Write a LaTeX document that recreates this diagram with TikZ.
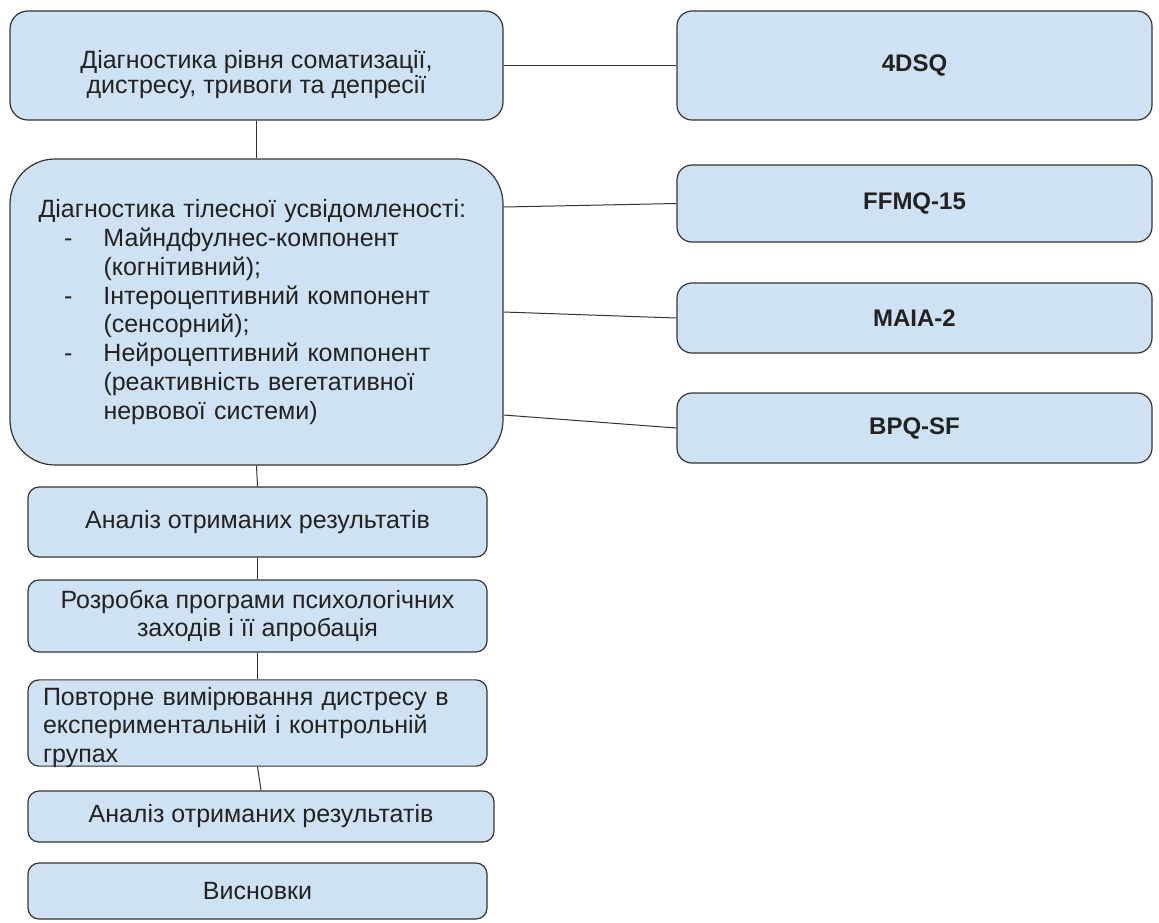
\documentclass[tikz,border=0pt]{standalone}
\usepackage{fontspec}
\setmainfont{Liberation Sans}
\definecolor{boxfill}{HTML}{CFE2F3}
\definecolor{boxline}{HTML}{333333}
\definecolor{textgray}{HTML}{222222}

\begin{document}
\begin{tikzpicture}[x=1pt,y=-1pt,
  box/.style={draw=boxline, fill=boxfill, line width=1.2pt, rounded corners=12pt,
    inner xsep=0pt, inner ysep=0pt, text=textgray, align=center,
    font=\fontsize{25}{28.75}\selectfont},
  tool/.style={box, rounded corners=15pt, minimum width=475pt,
    font=\fontsize{24}{28}\selectfont\bfseries},
  stage/.style={box, rounded corners=11pt, minimum width=459pt}]
\useasboundingbox (0,0) rectangle (1159,922);
\coordinate (d) at (256.5,65.5);
\coordinate (b) at (256.5,312);
\coordinate (t1) at (914.5,65.5);
\coordinate (t2) at (914.5,203.5);
\coordinate (t3) at (914.5,318);
\coordinate (t4) at (914.5,428);
\coordinate (s1) at (257.5,522);
\coordinate (s2) at (257.5,616);
\coordinate (s3) at (257.5,723);
\coordinate (s4) at (261,816.5);
\coordinate (s5) at (257.5,891);
% draws left column
\node[box, rounded corners=18pt, minimum width=493pt, minimum height=109pt,
  font=\fontsize{25}{24}\selectfont] (diag) at (d)
  {\raisebox{-10pt}[\height][\depth]{\begin{tabular}{@{}c@{}}
   Діагностика рівня соматизації,\\дистресу, тривоги та депресії\end{tabular}}};
\node[box, rounded corners=45pt, minimum height=306pt, text width=436pt,
  inner xsep=28.5pt, align=left] (body) at (b)
  {Діагностика тілесної усвідомленості:\\
   \hspace*{25.5pt}\makebox[39.5pt][l]{-}Майндфулнес-компонент\\
   \hspace*{65pt}(когнітивний);\\
   \hspace*{25.5pt}\makebox[39.5pt][l]{-}Інтероцептивний компонент\\
   \hspace*{65pt}(сенсорний);\\
   \hspace*{25.5pt}\makebox[39.5pt][l]{-}Нейроцептивний компонент\\
   \hspace*{65pt}(реактивність вегетативної\\
   \hspace*{65pt}нервової системи)};
\node[stage, minimum height=70pt] (an1) at (s1) {Аналіз отриманих результатів};
\node[stage, minimum height=72pt] (roz) at (s2)
  {Розробка програми психологічних\\заходів і її апробація};
\node[stage, minimum height=84pt, text width=429pt, inner xsep=15pt,
  align=left] (pov) at (s3)
  {\raisebox{-5pt}[\height][\depth]{\begin{tabular}{@{}l@{}}
   Повторне вимірювання дистресу в\\експериментальній і контрольній\\групах\end{tabular}}};
\node[stage, minimum width=466pt, minimum height=51pt] (an2) at (s4)
  {Аналіз отриманих результатів};
\node[stage, minimum height=56pt] (vys) at (s5) {Висновки};
% draws tools
\node[tool, minimum height=109pt] (dsq) at (t1) {4DSQ};
\node[tool, minimum height=77pt] (ffmq) at (t2) {FFMQ-15};
\node[tool, minimum height=70pt] (maia) at (t3) {MAIA-2};
\node[tool, minimum height=70pt] (bpq) at (t4) {BPQ-SF};
\begin{scope}[draw=boxline, line width=1pt]
% draws edges
\draw (diag.south) -- (body.north);
\draw (diag.east) -- (dsq.west);
\draw ([yshift=105pt]body.east) -- (ffmq.west);
\draw (body.east) -- (maia.west);
\draw ([yshift=-103pt]body.east) -- (bpq.west);
\draw (body.south) -- (an1.north);
\draw (an1.south) -- (roz.north);
\draw (roz.south) -- (pov.north);
\draw (pov.south) -- (an2.north);
\end{scope}
\end{tikzpicture}
\end{document}
